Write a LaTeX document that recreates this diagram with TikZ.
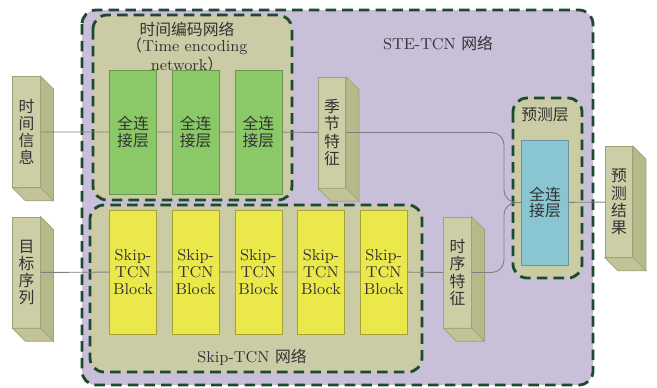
\documentclass[tikz,border=0pt]{standalone}
\usepackage{fontspec}
\newfontfamily\cjk{Noto Sans CJK SC}
\usetikzlibrary{positioning}

\definecolor{netbg}{HTML}{C9BFD8}
\definecolor{groupbg}{HTML}{CBCBA6}
\definecolor{groupline}{HTML}{1D4A2D}
\definecolor{slabfront}{HTML}{CDCEA6}
\definecolor{slabside}{HTML}{B6B989}
\definecolor{slabbottom}{HTML}{C2C498}
\definecolor{slabedge}{HTML}{9EA276}
\definecolor{fcgreen}{HTML}{8BC867}
\definecolor{blkyellow}{HTML}{EBE84C}
\definecolor{fccyan}{HTML}{89C6D1}
\definecolor{linkgray}{HTML}{7F7F7F}
\definecolor{txt}{HTML}{333333}

% side and bottom faces of a 3d slab
\newcommand{\slabfaces}[1]{%
  \filldraw[fill=slabside, draw=slabedge, line width=0.4pt]
    (#1.north east) -- ++(13,13) -- ([shift={(13,13)}]#1.south east) -- (#1.south east) -- cycle;
  \filldraw[fill=slabbottom, draw=slabedge, line width=0.4pt]
    (#1.south west) -- ++(13,13) -- ([shift={(13,13)}]#1.south east) -- (#1.south east) -- cycle;
}

\begin{document}
\begin{tikzpicture}[
		x = 0.02cm, y = -0.02cm, % one unit = one pixel, y going down
		text = txt,
		font = \fontsize{9}{10}\selectfont,
		link/.style = {draw=linkgray, line width=0.5pt},
		group/.style = {draw=groupline, line width=1.6pt, dash pattern=on 6pt off 3.5pt, rounded corners=8pt},
		fc/.style = {draw=#1!75!black, fill=#1, line width=0.4pt, minimum width=0.94cm, minimum height=2.48cm,
			inner sep=0pt, align=center, font=\fontsize{9}{9.5}\selectfont\cjk},
		blk/.style = {draw=blkyellow!70!black, fill=blkyellow, line width=0.4pt, minimum width=0.94cm,
			minimum height=2.48cm, inner sep=0pt, align=center, font=\fontsize{9}{9.5}\selectfont},
		slab/.style = {draw=slabedge, fill=slabfront, line width=0.4pt, minimum width=0.55cm,
			minimum height=2.22cm, inner sep=0pt, align=center, font=\fontsize{9}{9.8}\selectfont\cjk}
		]
		
		\useasboundingbox (0,0) rectangle (657,387);
		
		% network and group frames
		\path[group, fill=netbg] (82,10) rectangle (593,385);
		\path[group, fill=groupbg] (93,15) rectangle (292,200);
		\path[group, fill=groupbg] (90,205) rectangle (422,372);
		\path[group, fill=groupbg] (513,98) rectangle (582,278);
		
		\node (net) at (438,43) {STE-TCN {\cjk 网络}};
		\node[align=center, font=\fontsize{9}{9.4}\selectfont] (tenc) at (187,47)
			{{\cjk 时间编码网络}\\{\cjk （}Time encoding\\network{\cjk ）}};
		\node (skipnet) at (252,357) {Skip-TCN {\cjk 网络}};
		\node[font=\fontsize{9}{10}\selectfont\cjk] (predl) at (545,115) {预测层};
		
		% time encoding network
		\node[fc=fcgreen] (fc1) at (133,132) {全连\\接层};
		\node[fc=fcgreen] (fc2) [right=0.3cm of fc1] {全连\\接层};
		\node[fc=fcgreen] (fc3) [right=0.3cm of fc2] {全连\\接层};
		
		% skip-tcn network
		\node[blk] (blk1) at (133,272) {Skip-\\TCN\\Block};
		\node[blk] (blk2) [right=0.3cm of blk1] {Skip-\\TCN\\Block};
		\node[blk] (blk3) [right=0.3cm of blk2] {Skip-\\TCN\\Block};
		\node[blk] (blk4) [right=0.3cm of blk3] {Skip-\\TCN\\Block};
		\node[blk] (blk5) [right=0.3cm of blk4] {Skip-\\TCN\\Block};
		
		% prediction layer
		\node[fc=fccyan, minimum height=2.5cm] (pfc) at (545,202.5) {全连\\接层};
		
		% inputs, features, output
		\node[slab] (tinfo) at (26.5,132) {时\\间\\信\\息};
		\node[slab] (target) at (26.5,272.5) {目\\标\\序\\列};
		\node[slab] (season) at (332,132.5) {季\\节\\特\\征};
		\node[slab] (tfeat) at (457.5,272.5) {时\\序\\特\\征};
		\node[slab] (result) at (619,202) {预\\测\\结\\果};
		\slabfaces{tinfo}
		\slabfaces{target}
		\slabfaces{season}
		\slabfaces{tfeat}
		\slabfaces{result}
		
		\coordinate (join) at (504,202.5);
		
		\path[link]
		(tinfo) -- (fc1)
		(fc1) -- (fc2)
		(fc2) -- (fc3)
		(fc3) -- (season)
		(target) -- (blk1)
		(blk1) -- (blk2)
		(blk2) -- (blk3)
		(blk3) -- (blk4)
		(blk4) -- (blk5)
		(blk5) -- (tfeat)
		(pfc) -- (result)
		;
		\draw[link, rounded corners=7pt] (season.east) -| (join) -- (pfc.west);
		\draw[link, rounded corners=7pt] (tfeat.east) -| (join) -- (pfc.west);
	\end{tikzpicture}
\end{document}
